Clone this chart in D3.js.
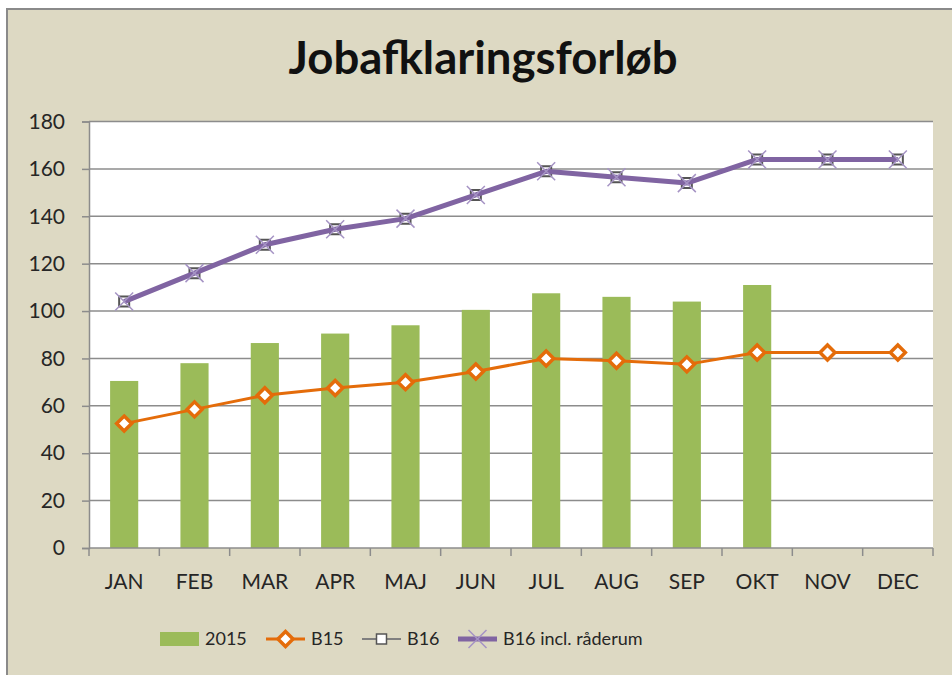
<!DOCTYPE html>
<html>
<head>
<meta charset="utf-8">
<script src="https://cdn.jsdelivr.net/npm/d3@7"></script>
<style>
  html, body { margin: 0; padding: 0; background: #fff; }
  svg { display: block; }
  text { font-family: Lato, "Noto Sans", sans-serif; fill: #262626; }
</style>
</head>
<body>
<svg id="chart" width="952" height="675"></svg>
<script>
// Data
const months = ["JAN", "FEB", "MAR", "APR", "MAJ", "JUN", "JUL", "AUG", "SEP", "OKT", "NOV", "DEC"];
const v2015 = [70.5, 78, 86.5, 90.5, 94, 100.5, 107.5, 106, 104, 111, null, null];
const b15 = [52.5, 58.5, 64.5, 67.5, 70, 74.5, 80, 79, 77.5, 82.5, 82.5, 82.5];
const b16 = [104, 116, 128, 134.5, 139, 149, 159, 156.5, 154, 164, 164, 164];
const b16incl = [104, 116, 128, 134.5, 139, 149, 159, 156.5, 154, 164, 164, 164];
const yTicks = [0, 20, 40, 60, 80, 100, 120, 140, 160, 180];

const svg = d3.select("#chart"),
    plot = { left: 89, right: 933, top: 121.5, bottom: 548 };

// chart area background + border
svg.append("rect")
    .attr("x", 7).attr("y", 9)
    .attr("width", 980).attr("height", 700)
    .attr("fill", "#ddd9c3")
    .attr("stroke", "#8a8a8a")
    .attr("stroke-width", 2);

svg.append("rect")
    .attr("x", plot.left).attr("y", plot.top)
    .attr("width", plot.right - plot.left).attr("height", plot.bottom - plot.top)
    .attr("fill", "#fff");

svg.append("text")
    .attr("x", 483).attr("y", 74)
    .attr("text-anchor", "middle")
    .style("font-size", "45.5px")
    .style("font-weight", "bold")
    .style("fill", "#111")
    .text("Jobafklaringsforløb");

const x = d3.scaleBand()
    .domain(months)
    .range([plot.left, plot.right])
    .padding(0);

const y = d3.scaleLinear()
    .domain([0, 180])
    .range([plot.bottom, plot.top]);

// gridlines
svg.append("g")
    .selectAll("line")
    .data(yTicks.filter(d => d > 0))
    .enter()
    .append("line")
    .attr("x1", plot.left).attr("x2", plot.right)
    .attr("y1", d => y(d)).attr("y2", d => y(d))
    .attr("stroke", "#8c8c8c")
    .attr("stroke-width", 1.5);

// bars 2015
const barW = x.bandwidth() / 2.5;
svg.append("g")
    .selectAll("rect")
    .data(months.map((m, i) => [m, v2015[i]]).filter(d => d[1] != null))
    .enter()
    .append("rect")
    .attr("x", d => x(d[0]) + (x.bandwidth() - barW) / 2)
    .attr("y", d => y(d[1]))
    .attr("width", barW)
    .attr("height", d => y(0) - y(d[1]))
    .attr("fill", "#9bbb59");

// axes
const yAxis = svg.append("g")
    .attr("transform", "translate(" + plot.left + ",0)")
    .call(d3.axisLeft(y).tickValues(yTicks).tickSize(7).tickPadding(17));
yAxis.selectAll("text").style("font-size", "21px").style("font-family", "Lato, sans-serif");

const xAxis = svg.append("g")
    .attr("transform", "translate(0," + plot.bottom + ")")
    .call(d3.axisBottom(x).tickSize(0).tickPadding(26));
xAxis.selectAll("text").style("font-size", "21px").style("font-family", "Lato, sans-serif");
xAxis.select(".domain").remove();

// x boundary ticks
svg.append("g")
    .selectAll("line")
    .data(months.map(m => x(m)).concat([x.range()[1]]))
    .enter()
    .append("line")
    .attr("x1", d => d).attr("x2", d => d)
    .attr("y1", plot.bottom).attr("y2", plot.bottom + 8)
    .attr("stroke", "#8c8c8c")
    .attr("stroke-width", 1.5);

svg.selectAll(".domain").attr("stroke", "#8c8c8c").attr("stroke-width", 1.5);
yAxis.selectAll(".tick line").attr("stroke", "#8c8c8c").attr("stroke-width", 1.5);
svg.append("line")
    .attr("x1", plot.left).attr("x2", plot.right)
    .attr("y1", plot.bottom).attr("y2", plot.bottom)
    .attr("stroke", "#8c8c8c").attr("stroke-width", 1.5);

const cx = m => x(m) + x.bandwidth() / 2;
const line = d3.line().x(d => cx(d[0])).y(d => y(d[1]));

const diamond = "M0,-7.5L7.5,0L0,7.5L-7.5,0Z";
const square = "M-5,-5H5V5H-5Z";
const cross = "M-9,-9L9,9M-9,9L9,-9";

// B15
const b15Data = months.map((m, i) => [m, b15[i]]);
svg.append("path")
    .datum(b15Data)
    .attr("d", line)
    .attr("fill", "none")
    .attr("stroke", "#e46c0a")
    .attr("stroke-width", 3);
svg.append("g")
    .selectAll("path")
    .data(b15Data)
    .enter()
    .append("path")
    .attr("transform", d => "translate(" + cx(d[0]) + "," + y(d[1]) + ")")
    .attr("d", diamond)
    .attr("fill", "#fff")
    .attr("stroke", "#e46c0a")
    .attr("stroke-width", 3.5);

// B16
const b16Data = months.map((m, i) => [m, b16[i]]);
svg.append("path")
    .datum(b16Data)
    .attr("d", line)
    .attr("fill", "none")
    .attr("stroke", "#7f7f7f")
    .attr("stroke-width", 2);
svg.append("g")
    .selectAll("path")
    .data(b16Data)
    .enter()
    .append("path")
    .attr("transform", d => "translate(" + cx(d[0]) + "," + y(d[1]) + ")")
    .attr("d", square)
    .attr("fill", "#fff")
    .attr("stroke", "#555")
    .attr("stroke-width", 2);

// B16 incl. råderum
const inclData = months.map((m, i) => [m, b16incl[i]]);
svg.append("path")
    .datum(inclData)
    .attr("d", line)
    .attr("fill", "none")
    .attr("stroke", "#8064a2")
    .attr("stroke-width", 5)
    .attr("stroke-linejoin", "round");
svg.append("g")
    .selectAll("path")
    .data(inclData)
    .enter()
    .append("path")
    .attr("transform", d => "translate(" + cx(d[0]) + "," + y(d[1]) + ")")
    .attr("d", cross)
    .attr("fill", "none")
    .attr("stroke", "#a593c4")
    .attr("stroke-width", 1.5);

// legend
const legend = svg.append("g").attr("transform", "translate(0,639)");
const items = [
    { x: 160, label: "2015" },
    { x: 266, label: "B15" },
    { x: 362, label: "B16" },
    { x: 458, label: "B16 incl. råderum" }
];
items.forEach((it, i) => {
    const g = legend.append("g").attr("transform", "translate(" + it.x + ",0)");
    if (i === 0) {
        g.append("rect").attr("x", 0).attr("y", -7).attr("width", 39).attr("height", 14).attr("fill", "#9bbb59");
    } else if (i === 1) {
        g.append("line").attr("x1", 0).attr("x2", 39).attr("stroke", "#e46c0a").attr("stroke-width", 3);
        g.append("path").attr("transform", "translate(19.5,0)").attr("d", diamond)
            .attr("fill", "#fff").attr("stroke", "#e46c0a").attr("stroke-width", 3.5);
    } else if (i === 2) {
        g.append("line").attr("x1", 0).attr("x2", 39).attr("stroke", "#7f7f7f").attr("stroke-width", 2);
        g.append("path").attr("transform", "translate(19.5,0)").attr("d", square)
            .attr("fill", "#fff").attr("stroke", "#555").attr("stroke-width", 1.5);
    } else {
        g.append("line").attr("x1", 0).attr("x2", 39).attr("stroke", "#8064a2").attr("stroke-width", 5);
        g.append("path").attr("transform", "translate(19.5,0)").attr("d", cross)
            .attr("fill", "none").attr("stroke", "#a593c4").attr("stroke-width", 1.5);
    }
    g.append("text")
        .attr("x", 45).attr("y", 0)
        .attr("dy", "0.35em")
        .style("font-size", "18px")
        .text(it.label);
});
</script>
</body>
</html>
